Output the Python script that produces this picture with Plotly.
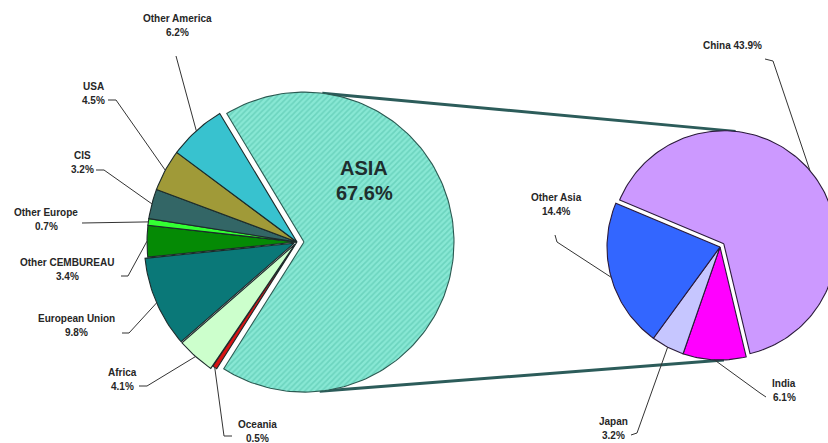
import numpy as np
import plotly.graph_objects as go

# World cement production shares (%), clockwise from the Asia slice
world_regions = ["ASIA", "Oceania", "Africa", "European Union", "Other CEMBUREAU",
                 "Other Europe", "CIS", "USA", "Other America"]
world_share = [67.6, 0.5, 4.1, 9.8, 3.4, 0.7, 3.2, 4.5, 6.2]
world_colors = ["#84e6d2", "#d81414", "#ccffcc", "#0a7878", "#058a05",
                "#33ff33", "#336666", "#a09a38", "#38c2cf"]

# Breakdown of the Asia slice (% of world), clockwise from China
asia_countries = ["China", "India", "Japan", "Other Asia"]
asia_share = [43.9, 6.1, 3.2, 14.4]
asia_colors = ["#cc99ff", "#ff00ff", "#c6c6ff", "#3366ff"]

# pie geometry in pixel space
W, H = 828, 443
L_CX, L_CY, L_R, L_ROT = 297, 242, 150, 329.0
R_CX, R_CY, R_R, R_ROT = 720, 247, 113, 292.8
world_pull = [7, 0, 3, 3, 0, 0, 0, 0, 0]
asia_pull = [5, 0, 0, 0]


def pt(cx, cy, r, ang):
    a = np.radians(ang)
    return cx + r * np.sin(a), cy - r * np.cos(a)


def slices(values, cx, cy, r, rot, pulls):
    total = sum(values)
    out = []
    a = rot
    for v, p in zip(values, pulls):
        span = 360.0 * v / total
        mid = a + span / 2
        ox, oy = pt(0, 0, p, mid)
        out.append(dict(a0=a, a1=a + span, mid=mid, cx=cx + ox, cy=cy + oy, r=r))
        a += span
    return out


def wedge(s):
    n = max(4, int(abs(s["a1"] - s["a0"]) / 1.5) + 2)
    ang = np.linspace(s["a0"], s["a1"], n)
    xs = [s["cx"]] + [pt(s["cx"], s["cy"], s["r"], t)[0] for t in ang] + [s["cx"]]
    ys = [s["cy"]] + [pt(s["cx"], s["cy"], s["r"], t)[1] for t in ang] + [s["cy"]]
    return xs, ys


left = slices(world_share, L_CX, L_CY, L_R, L_ROT, world_pull)
right = slices(asia_share, R_CX, R_CY, R_R, R_ROT, asia_pull)

fig = go.Figure()

# connectors from the Asia slice to the breakdown pie
asia = left[0]
china = right[0]
for la, ra, rc in [(7, 6, china), (174, 178, None)]:
    x0, y0 = pt(asia["cx"], asia["cy"], asia["r"], la)
    if rc is None:
        x1, y1 = pt(R_CX, R_CY, R_R, ra)
    else:
        x1, y1 = pt(rc["cx"], rc["cy"], rc["r"], ra)
    fig.add_trace(go.Scatter(x=[x0, x1], y=[y0, y1], mode="lines",
                             line=dict(color="#2c5c5a", width=3),
                             hoverinfo="skip", showlegend=False))

# left pie
for i, s in enumerate(left):
    xs, ys = wedge(s)
    kw = {}
    if i == 0:
        kw["fillpattern"] = dict(shape="/", bgcolor="#88e8d4", fgcolor="#4fbfa8",
                                 size=4, solidity=0.4)
        line_col = "#2b5a52"
    else:
        line_col = "#1c2b2b"
    fig.add_trace(go.Scatter(x=xs, y=ys, mode="lines", fill="toself",
                             fillcolor=world_colors[i],
                             line=dict(color=line_col, width=1.1),
                             hoverinfo="skip", showlegend=False, **kw))

# right pie
for i, s in enumerate(right):
    xs, ys = wedge(s)
    fig.add_trace(go.Scatter(x=xs, y=ys, mode="lines", fill="toself",
                             fillcolor=asia_colors[i],
                             line=dict(color="#2a1a3a", width=1.1),
                             hoverinfo="skip", showlegend=False))

# label text positions and leader-line anchor points (pixel space)
world_label_pos = {
    "Oceania": (257, 424), "Africa": (122, 372), "European Union": (76, 318),
    "Other CEMBUREAU": (67, 262), "Other Europe": (46, 212), "CIS": (82, 155),
    "USA": (93, 86), "Other America": (177, 18),
}
world_leader = {
    "Oceania": [(232, 436), (224, 436)], "Africa": [(139, 386), (147, 386)],
    "European Union": [(122, 333), (129, 333)],
    "Other CEMBUREAU": [(121, 276), (128, 276)], "Other Europe": [(82, 223)],
    "CIS": [(96, 170), (104, 170)], "USA": [(108, 100), (116, 100)],
    "Other America": [(176, 56)],
}
asia_label_pos = {"India": (784, 383), "Japan": (613, 421), "Other Asia": (556, 197)}
asia_leader = {
    "China": [(765, 59), (773, 61)], "India": [(766, 397), (760, 393)],
    "Japan": [(631, 435), (637, 433)], "Other Asia": [(555, 235), (557, 242)],
}

TXT = dict(family="Liberation Sans, Arial, sans-serif", size=10, color="#262626")


def leader(points, s):
    ex, ey = pt(s["cx"], s["cy"], s["r"], s["mid"])
    xs = [p[0] for p in points] + [ex]
    ys = [p[1] for p in points] + [ey]
    fig.add_trace(go.Scatter(x=xs, y=ys, mode="lines",
                             line=dict(color="#333333", width=1),
                             hoverinfo="skip", showlegend=False))


def two_line(name, value, pos):
    x, y = pos
    fig.add_annotation(x=x, y=y, text="<b>%s</b>" % name, showarrow=False,
                       xanchor="center", yanchor="middle", font=TXT)
    fig.add_annotation(x=x, y=y + 14, text="<b>%.1f%%</b>" % value, showarrow=False,
                       xanchor="center", yanchor="middle", font=TXT)


for i, name in enumerate(world_regions):
    if name == "ASIA":
        fig.add_annotation(x=364, y=168, text="<b>ASIA</b>", showarrow=False,
                           font=dict(family="Liberation Sans, Arial, sans-serif",
                                     size=20, color="#1e2e2e"))
        fig.add_annotation(x=364, y=193, text="<b>%.1f%%</b>" % world_share[i],
                           showarrow=False,
                           font=dict(family="Liberation Sans, Arial, sans-serif",
                                     size=20, color="#1e2e2e"))
        continue
    leader(world_leader[name], left[i])
    two_line(name, world_share[i], world_label_pos[name])

for i, name in enumerate(asia_countries):
    leader(asia_leader[name], right[i])
    if name == "China":
        fig.add_annotation(x=732, y=45, text="<b>China %.1f%%</b>" % asia_share[i],
                           showarrow=False, font=TXT)
    else:
        two_line(name, asia_share[i], asia_label_pos[name])

fig.update_layout(
    width=W, height=H,
    margin=dict(l=0, r=0, t=0, b=0),
    paper_bgcolor="white", plot_bgcolor="white",
    xaxis=dict(range=[0, W], visible=False, fixedrange=True),
    yaxis=dict(range=[H, 0], visible=False, fixedrange=True),
    showlegend=False,
)

fig.write_html("out.html")
